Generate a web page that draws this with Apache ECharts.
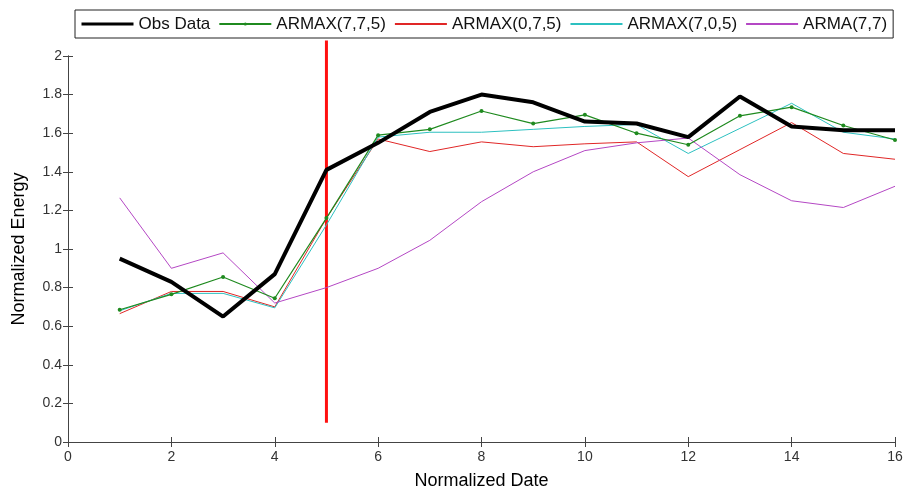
<!DOCTYPE html>
<html>
<head>
<meta charset="utf-8">
<script src="https://cdn.jsdelivr.net/npm/echarts@6/dist/echarts.min.js"></script>
<style>
  html, body { margin: 0; padding: 0; background: #fff; }
  #chart { width: 906px; height: 495px; }
</style>
</head>
<body>
<div id="chart"></div>
<script>
// values
const dates = [1, 2, 3, 4, 5, 6, 7, 8, 9, 10, 11, 12, 13, 14, 15, 16];
const obsData = [0.95, 0.83, 0.65, 0.87, 1.41, 1.55, 1.71, 1.80, 1.76, 1.66, 1.65, 1.58, 1.79, 1.635, 1.615, 1.615];
const armax775 = [0.685, 0.765, 0.855, 0.745, 1.16, 1.59, 1.62, 1.715, 1.65, 1.695, 1.60, 1.54, 1.69, 1.735, 1.64, 1.565];
const armax075 = [0.665, 0.78, 0.78, 0.70, 1.16, 1.57, 1.505, 1.555, 1.53, 1.545, 1.555, 1.375, 1.515, 1.655, 1.495, 1.465];
const armax705 = [0.68, 0.77, 0.77, 0.695, 1.125, 1.58, 1.605, 1.605, 1.62, 1.635, 1.645, 1.495, 1.625, 1.755, 1.605, 1.57];
const arma77 = [1.265, 0.90, 0.98, 0.72, 0.80, 0.90, 1.045, 1.245, 1.40, 1.51, 1.55, 1.575, 1.385, 1.25, 1.215, 1.325];
// vertical marker at date 5
const markX = [5, 5];
const markY = [0.1, 2.08];

const zip = (xs, ys) => xs.map((x, i) => [x, ys[i]]);

const chart = echarts.init(document.getElementById('chart'));

const fontName = 'Liberation Sans, Arial, sans-serif';
const axisFont = { fontFamily: fontName, color: '#333', fontSize: 14 };
const tickStyle = { inside: true, length: 5, lineStyle: { color: '#444' } };
const edge = { show: true, lineStyle: { color: '#444', width: 1 } };

function thinLine(name, data, color) {
  return {
    name: name,
    type: 'line',
    data: zip(dates, data),
    symbol: 'none',
    lineStyle: { color: color, width: 1 },
    itemStyle: { color: color }
  };
}

const hidden = { opacity: 0 };

chart.setOption({
  animation: false,
  grid: { left: 68, right: 11, top: 56, bottom: 49 },
  legend: {
    left: 75,
    right: 2,
    top: 10,
    padding: [5, 6, 5, 5],
    itemWidth: 52,
    itemHeight: 4,
    itemGap: 8,
    backgroundColor: '#fff',
    borderColor: '#222',
    borderWidth: 1,
    textStyle: { fontFamily: fontName, fontSize: 17, color: '#111', lineHeight: 18 },
    data: [
      { name: 'Obs Data', itemStyle: hidden, lineStyle: { width: 3 } },
      { name: 'ARMAX(7,7,5)' },
      { name: 'ARMAX(0,7,5)', itemStyle: hidden },
      { name: 'ARMAX(7,0,5)', itemStyle: hidden },
      { name: 'ARMA(7,7)', itemStyle: hidden }
    ]
  },
  xAxis: [{
    type: 'value', min: 0, max: 16, interval: 2,
    name: 'Normalized Date', nameLocation: 'middle', nameGap: 30,
    nameTextStyle: { fontFamily: fontName, fontSize: 18, color: '#000' },
    axisLine: edge,
    axisTick: tickStyle,
    axisLabel: Object.assign({ margin: 8 }, axisFont),
    splitLine: { show: false }
  }, {
    type: 'value', min: 0, max: 16, interval: 2, position: 'top',
    axisLine: edge,
    axisTick: tickStyle,
    axisLabel: { show: false },
    splitLine: { show: false }
  }],
  yAxis: [{
    type: 'value', min: 0, max: 2, interval: 0.2,
    name: 'Normalized Energy', nameLocation: 'middle', nameGap: 40,
    nameTextStyle: { fontFamily: fontName, fontSize: 18, color: '#000' },
    axisLine: edge,
    axisTick: tickStyle,
    axisLabel: Object.assign({ margin: 6 }, axisFont),
    splitLine: { show: false }
  }, {
    type: 'value', min: 0, max: 2, interval: 0.2, position: 'right',
    axisLine: edge,
    axisTick: tickStyle,
    axisLabel: { show: false },
    splitLine: { show: false }
  }],
  series: [
    {
      name: 'marker',
      type: 'line',
      data: zip(markX, markY),
      symbol: 'none',
      clip: false,
      lineStyle: { color: '#ff1010', width: 3 },
      z: 1,
      silent: true
    },
    {
      name: 'Obs Data',
      type: 'line',
      data: zip(dates, obsData),
      symbol: 'none',
      lineStyle: { color: '#000', width: 4 },
      itemStyle: { color: '#000' },
      z: 5
    },
    {
      name: 'ARMAX(7,7,5)',
      type: 'line',
      data: zip(dates, armax775),
      symbol: 'circle',
      symbolSize: 4,
      showSymbol: true,
      lineStyle: { color: '#1f8a1f', width: 1.2 },
      itemStyle: { color: '#1f8a1f' },
      z: 4
    },
    thinLine('ARMAX(0,7,5)', armax075, '#e02626'),
    thinLine('ARMAX(7,0,5)', armax705, '#2cc0c0'),
    thinLine('ARMA(7,7)', arma77, '#b447c4')
  ]
});
</script>
</body>
</html>
